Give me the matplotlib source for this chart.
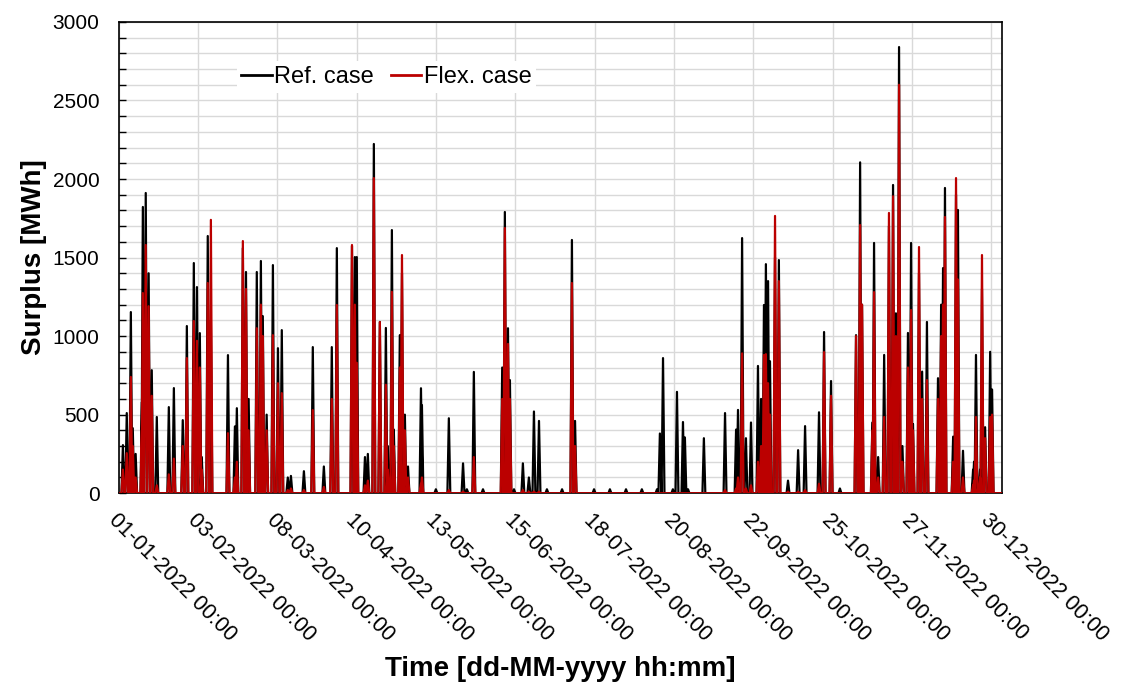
import numpy as np
import matplotlib
matplotlib.use('Agg')
import matplotlib.pyplot as plt
import matplotlib.dates as mdates
from matplotlib.ticker import MultipleLocator, FixedLocator
from datetime import datetime

plt.rcParams['font.family'] = ['Liberation Sans', 'DejaVu Sans']

start = datetime(2022, 1, 1)

# surplus events: day since 01-01-2022 00:00, peak [MWh]
spike_day = [1.7, 3.3, 5.0, 5.8, 7.0, 9.6, 10.0, 11.2, 12.4, 13.7, 15.8, 20.8, 22.9, 26.6,
             28.3, 31.2, 32.5, 33.7, 34.5, 37.0, 38.3, 45.4, 48.3, 49.1, 51.6, 52.9, 54.0,
             57.4, 59.1, 59.9, 61.5, 64.1, 66.2, 67.8, 70.3, 71.6, 77.0, 80.7, 85.3, 88.6,
             90.7, 97.0, 98.2, 99.0, 102.4, 103.6, 106.1, 108.6, 111.1, 111.9, 113.6, 114.4,
             116.9, 117.8, 119.0, 120.3, 125.7, 126.1, 131.9, 137.3, 143.2, 144.8, 147.7,
             151.5, 159.5, 160.6, 161.9, 162.7, 164.4, 168.1, 170.6, 172.7, 174.8, 178.1,
             184.4, 188.5, 189.8, 197.7, 204.3, 211.0, 217.6, 223.9, 225.1, 226.4, 230.5,
             232.2, 234.7, 235.5, 236.8, 243.4, 252.2, 256.8, 257.6, 259.3, 260.9, 263.0,
             265.9, 267.2, 268.4, 269.2, 270.1, 270.9, 273.0, 274.6, 278.4, 282.6, 285.5,
             291.3, 293.4, 296.3, 300.0, 306.7, 308.4, 309.2, 313.5, 314.2, 315.9, 318.4,
             320.4, 322.1, 323.3, 324.6, 326.0, 328.3, 329.6, 330.4, 332.9, 334.2, 336.2,
             340.8, 342.1, 342.9, 343.7, 347.1, 348.3, 349.1, 351.2, 355.4, 355.8, 356.6,
             358.3, 359.1, 360.4, 362.5, 363.3]
ref_peak = [306, 510, 1153, 414, 250, 580, 1822, 1911, 1400, 783, 485, 548, 669, 465,
            1064, 1465, 1312, 1019, 230, 1637, 1100, 879, 425, 541, 1560, 1408, 600,
            1408, 1478, 1127, 500, 1452, 923, 1038, 100, 110, 140, 930, 170, 930,
            1560, 1573, 1503, 1503, 230, 250, 2223, 1090, 1052, 300, 1675, 405,
            1006, 1400, 500, 170, 668, 560, 25, 477, 190, 25, 772,
            25, 800, 1790, 1050, 720, 25, 190, 100, 520, 460, 25,
            25, 1612, 460, 25, 25, 25, 25, 25, 380, 860, 25,
            645, 453, 355, 25, 350, 510, 405, 530, 1624, 350, 450,
            810, 600, 1198, 1458, 1350, 840, 1500, 1484, 80, 274, 427,
            515, 1026, 714, 30, 1006, 2106, 1200, 450, 1593, 230, 880,
            1700, 1962, 1145, 2840, 300, 1020, 1593, 440, 1400, 774, 1090,
            732, 1200, 1433, 1943, 360, 1900, 1803, 270, 150, 200, 880,
            150, 1300, 420, 900, 660]
flex_peak = [150, 255, 740, 300, 100, 400, 1274, 1580, 1190, 620, 50, 120, 220, 300,
             860, 1096, 970, 800, 150, 1338, 1740, 382, 100, 200, 1605, 1300, 400,
             1050, 1200, 1000, 400, 1006, 700, 637, 20, 30, 20, 529, 40, 600,
             1198, 1580, 1200, 830, 50, 80, 2006, 1090, 690, 150, 1282, 300,
             800, 1516, 400, 100, 60, 100, 0, 20, 10, 0, 230,
             0, 600, 1688, 950, 600, 0, 20, 10, 10, 10, 0,
             0, 1338, 300, 0, 0, 0, 0, 0, 0, 0, 0,
             0, 0, 0, 0, 0, 20, 30, 100, 890, 30, 50,
             200, 300, 880, 885, 700, 500, 1765, 1350, 10, 10, 20,
             60, 898, 620, 0, 1000, 1707, 1200, 400, 1280, 100, 485,
             1784, 1890, 1000, 2600, 200, 800, 1166, 400, 1567, 600, 720,
             600, 1000, 1200, 1758, 200, 2006, 1360, 100, 50, 80, 485,
             100, 1516, 350, 485, 500]

tick_days = [0, 33, 66, 99, 132, 165, 198, 231, 264, 297, 330, 363]
x_end = 367.5


def spike_path(days, peaks, half=0.6):
    order = np.argsort(days)
    x, y = [0.0], [0.0]
    for i in order:
        if peaks[i] <= 0:
            continue
        x += [days[i] - half, days[i], days[i] + half]
        y += [0, peaks[i], 0]
    x.append(x_end)
    y.append(0)
    return mdates.date2num(start) + np.array(x), np.array(y)


fig = plt.figure(figsize=(11.21, 6.85), dpi=100)
ax = fig.add_axes([0.106, 0.280, 0.788, 0.688])

xr, yr = spike_path(spike_day, ref_peak)
xf, yf = spike_path(spike_day, flex_peak)
ax.plot(xr, yr, color='black', lw=1.6, label='Ref. case', zorder=3)
ax.plot(xf, yf, color='#bb0000', lw=1.6, label='Flex. case', zorder=4)

t0 = mdates.date2num(start)
ax.set_xlim(t0, t0 + x_end)
ax.set_ylim(0, 3000)
ax.xaxis.set_major_locator(FixedLocator([t0 + d for d in tick_days]))
ax.xaxis.set_major_formatter(mdates.DateFormatter('%d-%m-%Y %H:%M'))
ax.yaxis.set_major_locator(MultipleLocator(500))
ax.yaxis.set_minor_locator(MultipleLocator(100))

ax.grid(which='both', axis='y', color='#d9d9d9', lw=1)
ax.grid(which='major', axis='x', color='#d9d9d9', lw=1)
ax.set_axisbelow(True)

ax.tick_params(axis='y', which='both', direction='in', length=5, width=1,
               labelsize=15, pad=14)
ax.tick_params(axis='x', length=0, labelsize=15.5, pad=12)
for lbl in ax.get_xticklabels():
    lbl.set_rotation(-45)
    lbl.set_ha('left')
    lbl.set_va('top')
    lbl.set_rotation_mode('anchor')

for s in ax.spines.values():
    s.set_color('black')
    s.set_linewidth(1.2)

ax.set_ylabel('Surplus [MWh]', fontsize=20, fontweight='bold', labelpad=4)
ax.set_xlabel('Time [dd-MM-yyyy hh:mm]', fontsize=20, fontweight='bold', va='center')
ax.xaxis.set_label_coords(0.5, -0.372)

leg = ax.legend(loc='center left', bbox_to_anchor=(0.12, 0.883), ncol=2,
                fontsize=17, handlelength=1.3, handletextpad=0.1, columnspacing=0.7,
                frameon=True, facecolor='white', edgecolor='none', framealpha=1,
                borderpad=0.2)
for h in leg.get_lines():
    h.set_linewidth(2)

fig.savefig('out.png', dpi=100)
